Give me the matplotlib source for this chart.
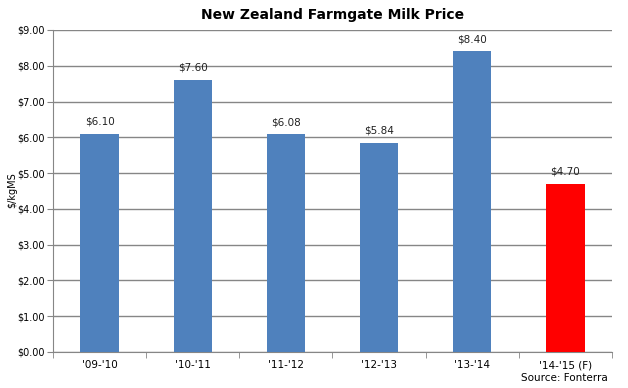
import numpy as np
import matplotlib
matplotlib.use("Agg")
import matplotlib.pyplot as plt

seasons = ["'09-'10", "'10-'11", "'11-'12", "'12-'13", "'13-'14", "'14-'15 (F)"]
prices = [6.10, 7.60, 6.08, 5.84, 8.40, 4.70]
colors = ["#4f81bd"] * 5 + ["#ff0000"]

fig = plt.figure(figsize=(6.28, 3.88), dpi=100)
ax = fig.add_axes([0.0844, 0.0928, 0.8901, 0.8299])

x = np.arange(len(seasons))
ax.bar(x, prices, width=0.41, color=colors, zorder=3)
for xi, v in zip(x, prices):
    ax.text(xi, v + 0.2, f"${v:.2f}", ha="center", va="bottom", fontsize=7.5, color="#222222")

ax.set_xlim(-0.5, len(seasons) - 0.5)
ax.set_ylim(0, 9)
ax.set_yticks(np.arange(0, 10, 1))
ax.set_yticklabels([f"${v:.2f}" for v in np.arange(0, 10, 1)], fontsize=7)
ax.set_xticks(x)
ax.set_xticklabels(seasons, fontsize=7.5)
ax.set_xticks(np.arange(-0.5, len(seasons)), minor=True)
ax.tick_params(axis="x", which="major", length=0, pad=6)
ax.tick_params(axis="x", which="minor", length=4, color="#868686")
ax.tick_params(axis="y", length=4, color="#868686", pad=2)

ax.yaxis.grid(True, color="#868686", lw=1, zorder=0)
for s in ["top", "right"]:
    ax.spines[s].set_visible(False)
for s in ["left", "bottom"]:
    ax.spines[s].set_color("#868686")

fig.text(12 / 628, 0.51, "$/kgMS", rotation=90, ha="center", va="center", fontsize=7)
ax.set_title("New Zealand Farmgate Milk Price", fontsize=10, fontweight="bold", pad=8)
fig.text(0.968, 0.012, "Source: Fonterra", ha="right", va="bottom", fontsize=7.5)

fig.savefig("out.png", dpi=100)
